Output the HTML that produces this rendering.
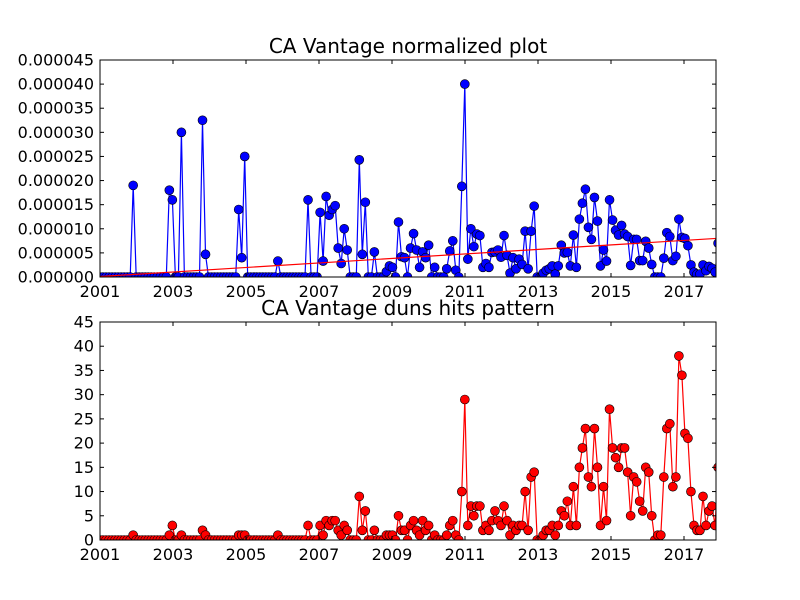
<!DOCTYPE html>
<html><head><meta charset="utf-8"><style>
body{margin:0;background:#fff}
svg{display:block;font-family:"DejaVu Sans","Liberation Sans",sans-serif}
</style></head><body>
<svg id="c" width="800" height="600" viewBox="0 0 800 600"></svg>
<script>
// month index -> value, zero elsewhere
const monthCount = 207;
const normIdx = [11,23,24,27,34,35,46,47,48,59,69,73,74,75,76,77,78,79,80,81,82,86,87,88,91,95,96,97,99,100,101,103,104,105,106,107,108,109,111,115,116,117,118,120,121,122,123,124,125,126,127,128,129,130,131,132,133,134,135,136,137,138,139,140,141,142,143,144,147,148,149,150,151,152,153,154,155,156,157,158,159,160,161,162,163,164,165,166,167,168,169,170,171,172,173,174,175,176,177,178,179,180,181,182,183,187,188,189,190,191,192,193,194,195,196,197,198,199,200,201,202,203,204,205,206];
const normVals = [19,18,16,30,32.5,4.7,14,4,25,3.3,16,13.4,3.3,16.7,12.8,14,14.8,6,2.8,10,5.6,24.3,4.7,15.5,5.2,1.1,2.3,2,11.4,4.2,4,6,9,5.6,2,5.2,4,6.6,2,1.7,5.4,7.5,1.4,18.8,40,3.7,10,6.3,8.9,8.6,2,2.8,2,5.1,5.2,5.6,4.1,8.6,4.5,0.8,4,1.7,3.7,2.6,9.5,1.7,9.5,14.7,0.8,1.4,1.7,2.3,0.6,2.3,6.6,5,5.1,2.3,8.7,2,12,15.3,18.2,10.3,7.8,16.5,11.6,2.3,5.6,3.3,16,11.8,9.7,8.7,10.7,8.9,8.4,2.4,7.8,7.8,3.4,3.4,7.4,6,2.6,3.9,9.2,8.4,3.4,4.3,12,8.2,8,6.5,2.5,1,0.6,0.6,2.5,1.3,2.2,1.8,1,7,10.3];
const hitIdx = [11,23,24,27,34,35,46,47,48,59,69,73,74,75,76,77,78,79,80,81,82,86,87,88,91,95,96,97,99,100,101,103,104,105,106,107,108,109,111,115,116,117,118,120,121,122,123,124,125,126,127,128,129,130,131,132,133,134,135,136,137,138,139,140,141,142,143,144,147,148,149,150,151,152,153,154,155,156,157,158,159,160,161,162,163,164,165,166,167,168,169,170,171,172,173,174,175,176,177,178,179,180,181,182,183,185,186,187,188,189,190,191,192,193,194,195,196,197,198,199,200,201,202,203,204,205,206];
const hitVals = [1,1,3,1,2,1,1,1,1,1,3,3,1,4,3,4,4,2,1,3,2,9,2,6,2,1,1,1,5,2,2,3,4,2,1,4,2,3,1,1,3,4,1,10,29,3,7,5,7,7,2,3,2,4,6,4,3,7,4,1,3,2,3,3,10,2,13,14,1,2,2,3,1,3,6,5,8,3,11,3,15,19,23,13,11,23,15,3,11,4,27,19,17,15,19,19,14,5,13,12,8,6,15,14,5,1,1,13,23,24,11,13,38,34,22,21,10,3,2,2,9,3,6,7,3,15,11];
const trendVals = [0.1, 8.0];
const yearTicks = [2001,2003,2005,2007,2009,2011,2013,2015,2017];
const topTicks = ["0.000000","0.000005","0.000010","0.000015","0.000020","0.000025","0.000030","0.000035","0.000040","0.000045"];
const botTicks = ["0","5","10","15","20","25","30","35","40","45"];

const NS="http://www.w3.org/2000/svg";
const svg=document.getElementById('c');
function mk(t,a,p){const e=document.createElementNS(NS,t);for(const k in a)e.setAttribute(k,a[k]);(p||svg).appendChild(e);return e;}
function dense(idx,vals){const a=new Array(monthCount).fill(0);idx.forEach((m,j)=>a[m]=vals[j]);return a;}
const norm=dense(normIdx,normVals), hits=dense(hitIdx,hitVals);
const L=100,R=716;
const x=i=>L+i*3.015;
const xYear=y=>L+(y-2001)*36.5;

function panel(top,bot,maxV,series,color,ticks,title,name){
  const y=v=>bot-v*(bot-top)/maxV;
  const g=mk('g',{});
  
  
  const cid='clip'+name;
  const cp=mk('clipPath',{id:cid},g);mk('rect',{x:L,y:top,width:R-L,height:bot-top},cp);
  const pg=mk('g',{'clip-path':'url(#'+cid+')'},g);
  let d='';series.forEach((v,i)=>{d+=(i?'L':'M')+x(i).toFixed(1)+','+y(v).toFixed(1);});
  const ln=mk('path',{d:d,fill:'none',stroke:color,'stroke-width':1.2},pg);
  
  
  series.forEach((v,i)=>{
    const c=mk('circle',{cx:x(i),cy:y(v),r:4.5,fill:color,stroke:'#000','stroke-width':0.6},pg);
    
    
  });
  if(name==='normalized-panel'){
    const t=mk('line',{x1:L,y1:y(trendVals[0]),x2:R,y2:y(trendVals[1]),stroke:'#f00','stroke-width':1.2},pg);
    
    
  }
  const fr=mk('rect',{x:L,y:top,width:R-L,height:bot-top,fill:'none',stroke:'#000','stroke-width':1},g);
  
  
  ticks.forEach((lab,k)=>{
    const yy=y(k*maxV/(ticks.length-1));
    mk('line',{x1:L,y1:yy,x2:L+4,y2:yy,stroke:'#000'},g);
    mk('line',{x1:R,y1:yy,x2:R-4,y2:yy,stroke:'#000'},g);
    const t=mk('text',{x:L-6,y:yy+5.5,'text-anchor':'end','font-size':16},g);t.textContent=lab;
    
    
  });
  yearTicks.forEach(yr=>{
    const xx=xYear(yr);
    mk('line',{x1:xx,y1:bot,x2:xx,y2:bot-4,stroke:'#000'},g);
    mk('line',{x1:xx,y1:top,x2:xx,y2:top+4,stroke:'#000'},g);
    const t=mk('text',{x:xx,y:bot+20,'text-anchor':'middle','font-size':16},g);t.textContent=yr;
    
    
  });
  const tt=mk('text',{x:(L+R)/2,y:top-7,'text-anchor':'middle','font-size':20},g);tt.textContent=title;
  
  
}
panel(60,277,45,norm,'#0000ff',topTicks,'CA Vantage normalized plot','normalized-panel');
panel(322,540,45,hits,'#ff0000',botTicks,'CA Vantage duns hits pattern','hits-panel');
</script>
</body></html>
